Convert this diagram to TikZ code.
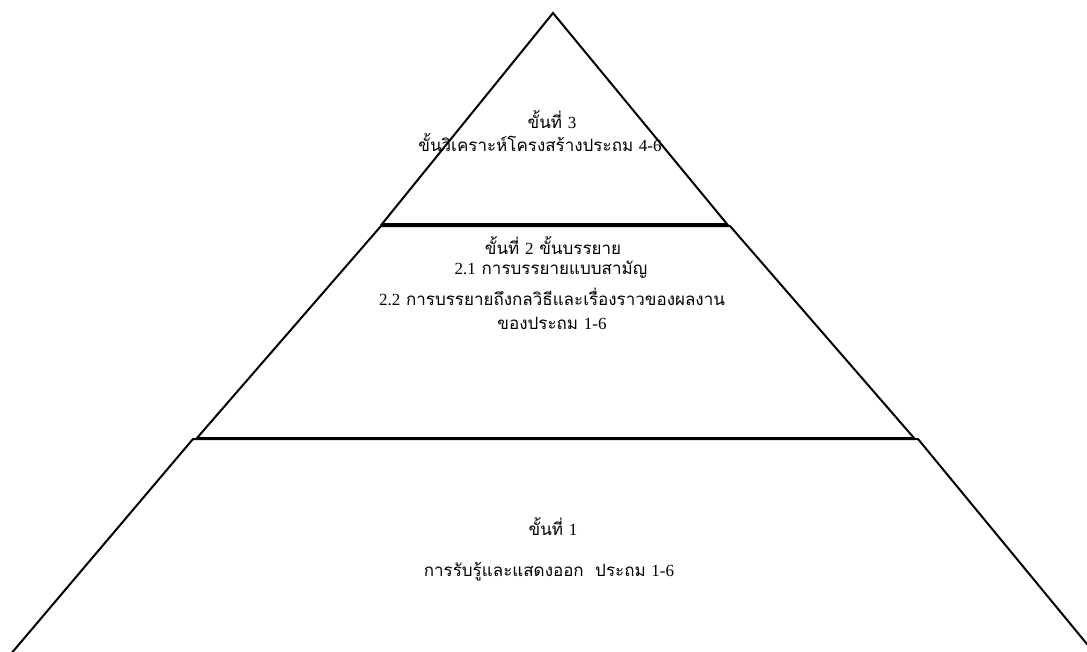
\documentclass[tikz,border=0pt]{standalone}
\usepackage{fontspec}
\setmainfont{Liberation Serif}
\newfontfamily\thaifont[Script=Thai]{Loma}
\newcommand{\lat}[1]{{\rmfamily #1}}
\begin{document}
\begin{tikzpicture}[x=1pt,y=-1pt,
  edge/.style={draw=black,line width=2pt,line join=miter},
  lbl/.style={font=\thaifont\fontsize{17}{20}\selectfont,inner sep=0pt,anchor=center}]
\useasboundingbox (0,0) rectangle (1087,651);
\clip (0,0) rectangle (1087,651);
% shapes
\coordinate (apex) at (553,13);
\coordinate (t1) at (382,224);
\coordinate (t2) at (727,224);
\coordinate (m1) at (381,226);
\coordinate (m2) at (730,226);
\coordinate (m3) at (914,438);
\coordinate (m4) at (197,438);
\coordinate (b1) at (193,439);
\coordinate (b2) at (918,439);
\coordinate (b3) at (1096,655);
\coordinate (b4) at (10,655);
\draw[edge] (apex) -- (t2) -- (t1) -- cycle;
\draw[edge] (m1) -- (m2) -- (m3) -- (m4) -- cycle;
\draw[edge] (b4) -- (b1) -- (b2) -- (b3);
% texts
\node[lbl] (s3a) at (552,120) {ขั้นที่ \lat{3}};
\node[lbl] (s3b) at (540,143) {ขั้นวิเคราะห์โครงสร้างประถม \lat{4-6}};
\node[lbl] (s2a) at (553,246) {ขั้นที่ \lat{2} ขั้นบรรยาย};
\node[lbl] (s2b) at (551,270) {\lat{2.1} การบรรยายแบบสามัญ};
\node[lbl] (s2c) at (552,297) {\lat{2.2} การบรรยายถึงกลวิธีและเรื่องราวของผลงาน};
\node[lbl] (s2d) at (552,323) {ของประถม \lat{1-6}};
\node[lbl] (s1a) at (553,527) {ขั้นที่ \lat{1}};
\node[lbl] (s1b) at (549,572) {การรับรู้และแสดงออก~~ประถม \lat{1-6}};
\end{tikzpicture}
\end{document}
